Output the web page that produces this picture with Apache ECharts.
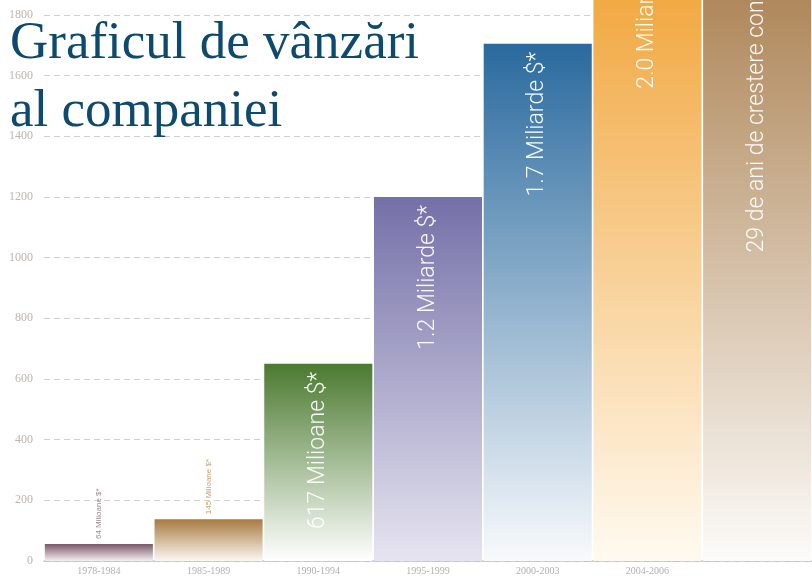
<!DOCTYPE html>
<html><head><meta charset="utf-8">
<script src="https://cdn.jsdelivr.net/npm/echarts@6/dist/echarts.min.js"></script>
<style>html,body{margin:0;padding:0;background:#fff;overflow:hidden}#c{width:812px;height:576px}</style>
</head><body><div id="c"></div>
<script>
const categories = ['1978-1984','1985-1989','1990-1994','1995-1999','2000-2003','2004-2006',''];
const sales = [56, 138, 650, 1200, 1705, 2060, 2040];
const barLabels = ['64 Milioane $*','145 Milioane $*','617 Milioane $*','1.2 Miliarde $*','1.7 Miliarde $*','2.0 Miliarde $*','29 de ani de crestere continuă'];
const yTicks = [0,200,400,600,800,1000,1200,1400,1600,1800];
const topColors = ['#7a5868','#a87a40','#4b7a30','#7470a8','#2a6a9e','#f0a030','#a87d4c'];
const bottomColors = ['#f4f0f2','#fbf8f3','#ffffff','#e6e4f0','#f8fafc','#fffaf0','#fcfbf9'];
const smallLabelColors = ['#9a8a92','#c8a070'];

const chart = echarts.init(document.getElementById('c'), null, {renderer:'canvas'});
const data = sales.map((v,i)=>{
  const small = i < 2;
  return {
    value: v,
    itemStyle: {color: new echarts.graphic.LinearGradient(0,0,0,1,[{offset:0,color:topColors[i]},{offset:1,color:bottomColors[i]}])},
    label: small ? {
      show:true, formatter: barLabels[i], position:'top', rotate:90, align:'left', verticalAlign:'middle',
      distance:5, fontSize:8, color: smallLabelColors[i], fontFamily:'Liberation Sans, Arial, sans-serif'
    } : {
      show:true, formatter: barLabels[i], position:'insideTop', rotate:90, align:'right', verticalAlign:'middle',
      distance:8, fontSize:23, fontWeight:300, color:'rgba(255,255,255,0.95)', fontFamily:'Roboto, Liberation Sans, sans-serif'
    }
  };
});
chart.setOption({
  animation:false,
  backgroundColor:'#fff',
  title:{
    text:'Graficul de vânzări\nal companiei', left:5, top:5,
    textStyle:{fontFamily:'Liberation Serif, DejaVu Serif, serif', fontSize:53, fontWeight:'normal', color:'#0d4a6e', lineHeight:68}
  },
  grid:{left:44, right:-6, top:15, bottom:14, containLabel:false},
  xAxis:{
    type:'category', data:categories,
    axisLine:{lineStyle:{color:'#c4c4c4', width:1.5}},
    axisTick:{show:false},
    axisLabel:{fontFamily:'Liberation Serif, serif', fontSize:10, color:'#b0b0b0', margin:5}
  },
  yAxis:{
    type:'value', min:0, max:1800, interval:200,
    axisLine:{show:false}, axisTick:{show:false},
    axisLabel:{fontFamily:'Liberation Serif, serif', fontSize:12, color:'#bcb5ad', margin:11,
      formatter:v=> yTicks.includes(v) ? String(v) : ''},
    splitLine:{lineStyle:{color:'#cfcfcf', type:[6,4], width:1}}
  },
  series:[{
    type:'bar', data:data, barCategoryGap:'1.5%', clip:false, z:2
  }]
});
</script></body></html>
